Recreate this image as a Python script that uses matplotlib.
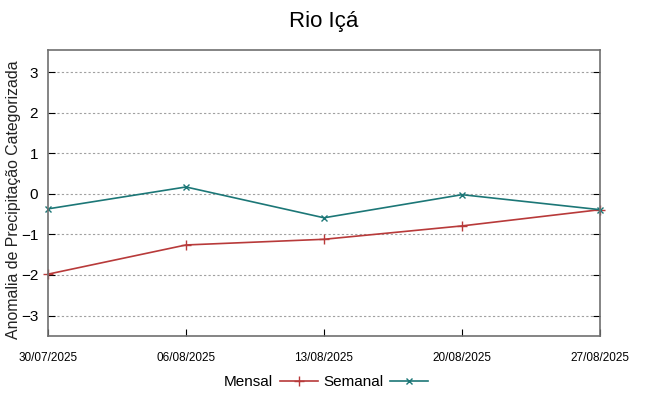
import numpy as np
import pandas as pd
import matplotlib
matplotlib.use("Agg")
import matplotlib.pyplot as plt
import matplotlib.dates as mdates

plt.rcParams['font.family'] = ['Liberation Sans', 'DejaVu Sans']

datas = ['30/07/2025', '06/08/2025', '13/08/2025', '20/08/2025', '27/08/2025']
mensal = [-1.98, -1.26, -1.12, -0.79, -0.39]
semanal = [-0.37, 0.17, -0.59, -0.02, -0.39]
yticks = [-3, -2, -1, 0, 1, 2, 3]

x = pd.to_datetime(datas, format='%d/%m/%Y')

fig = plt.figure(figsize=(6.48, 3.96), dpi=100)
ax = fig.add_axes([0.074, 0.152, 0.852, 0.722])

ax.plot(x, mensal, color='#b83a3a', lw=1.2, marker='+', ms=7, mew=1.0, label='Mensal', clip_on=False)
ax.plot(x, semanal, color='#1c7777', lw=1.2, marker='x', ms=5, mew=1.0, label='Semanal', clip_on=False)

ax.set_xlim(x[0], x[-1])
ax.set_ylim(-3.5, 3.55)
ax.set_yticks(yticks)
ax.set_xticks(x)
ax.xaxis.set_major_formatter(mdates.DateFormatter('%d/%m/%Y'))
ax.grid(axis='y', color='#a0a0a0', ls=(0, (2, 2)), lw=0.8)
ax.tick_params(axis='y', direction='in', right=True, labelsize=11, length=5, pad=7)
ax.tick_params(axis='x', direction='in', top=False, labelsize=8.5, length=5, pad=12)
for s in ax.spines.values():
    s.set_color('#707070')
    s.set_linewidth(1.2)

ax.set_ylabel('Anomalia de Precipitação Categorizada', fontsize=11.4, color='#222222')
ax.yaxis.set_label_coords(-0.048, 0.476)
fig.suptitle('Rio Içá', fontsize=16, y=0.972)

fig.legend(loc='center', bbox_to_anchor=(0.503, 0.035), ncol=2, frameon=False,
           markerfirst=False, fontsize=11, handlelength=2.5, columnspacing=0.35,
           handletextpad=0.45)

fig.savefig('out.png', dpi=100)
